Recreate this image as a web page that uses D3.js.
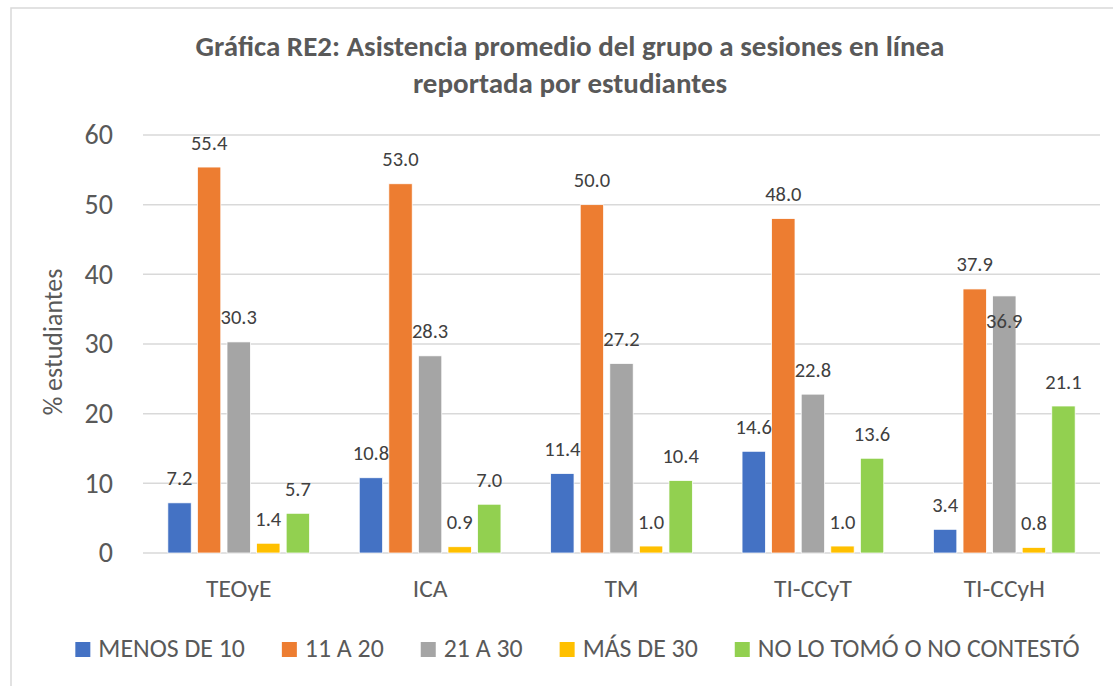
<!DOCTYPE html>
<html>
<head>
<meta charset="utf-8">
<script src="https://cdn.jsdelivr.net/npm/d3@7"></script>
<style>
  body { margin: 0; background: #fff; }
  svg { display: block; font-family: Carlito, Calibri, Lato, sans-serif; }
</style>
</head>
<body>
<div id="content"></div>
<script>
/* chart data */
const CATEGORIES = ["TEOyE", "ICA", "TM", "TI-CCyT", "TI-CCyH"];
const SERIES = ["MENOS DE 10", "11 A 20", "21 A 30", "MÁS DE 30", "NO LO TOMÓ O NO CONTESTÓ"];
const MENOS_10 = [7.2, 10.8, 11.4, 14.6, 3.4];
const DE_11_A_20 = [55.4, 53.0, 50.0, 48.0, 37.9];
const DE_21_A_30 = [30.3, 28.3, 27.2, 22.8, 36.9];
const MAS_30 = [1.4, 0.9, 1.0, 1.0, 0.8];
const NO_CONTESTO = [5.7, 7.0, 10.4, 13.6, 21.1];
const Y_TICKS = [0, 10, 20, 30, 40, 50, 60];
const COLORS = ["#4472C4", "#ED7D31", "#A5A5A5", "#FFC000", "#92D050"];

const WIDTH = 1113;
const HEIGHT = 686;
const PLOT = {left: 143, right: 1100, top: 135, bottom: 553};

const values = [MENOS_10, DE_11_A_20, DE_21_A_30, MAS_30, NO_CONTESTO];

const svg = d3.select("#content").append("svg")
    .attr("width", WIDTH)
    .attr("height", HEIGHT);

// chart area border (only left and top visible)
svg.append("rect")
    .attr("x", 11).attr("y", 8)
    .attr("width", 1200).attr("height", 800)
    .attr("fill", "none")
    .attr("stroke", "#d9d9d9")
    .attr("stroke-width", 1.5);

// title
const title = svg.append("text")
    .attr("text-anchor", "middle")
    .attr("fill", "#595959")
    .attr("font-weight", "bold")
    .attr("font-size", 29);
title.append("tspan").attr("x", 570).attr("y", 56)
    .text("Gráfica RE2: Asistencia promedio del grupo a sesiones en línea");
title.append("tspan").attr("x", 570).attr("y", 93)
    .text("reportada por estudiantes");

const x0 = d3.scaleBand()
    .domain(CATEGORIES)
    .range([PLOT.left, PLOT.right]);

const x1 = d3.scaleBand()
    .domain(SERIES)
    .range([0, x0.bandwidth()])
    .paddingInner(0.21)
    .paddingOuter(0.84);

const y = d3.scaleLinear()
    .domain([0, 60])
    .range([PLOT.bottom, PLOT.top]);

// gridlines
svg.append("g")
    .selectAll("line")
    .data(Y_TICKS)
    .join("line")
    .attr("x1", PLOT.left).attr("x2", PLOT.right)
    .attr("y1", (d) => y(d)).attr("y2", (d) => y(d))
    .attr("stroke", "#d9d9d9")
    .attr("stroke-width", 1.5);

// y axis labels
const yAxis = svg.append("g")
    .attr("transform", "translate(113,0)")
    .call(d3.axisLeft(y).tickValues(Y_TICKS).tickSize(0).tickPadding(0));
yAxis.select(".domain").remove();
yAxis.attr("font-family", null);
yAxis.selectAll("text")
    .attr("font-size", 28)
    .attr("fill", "#595959");

svg.append("text")
    .attr("transform", "translate(53," + 342 + ") rotate(-90)")
    .attr("text-anchor", "middle")
    .attr("dominant-baseline", "central")
    .attr("font-size", 26)
    .attr("fill", "#595959")
    .text("% estudiantes");

// x axis labels
const xAxis = svg.append("g")
    .attr("transform", "translate(0,579)")
    .call(d3.axisBottom(x0).tickSize(0).tickPadding(0));
xAxis.select(".domain").remove();
xAxis.attr("font-family", null);
xAxis.selectAll("text")
    .attr("font-size", 25.5)
    .attr("fill", "#595959");

// bars
const rows = CATEGORIES.map((c, i) => ({
    category: c,
    items: SERIES.map((s, j) => ({series: s, index: j, value: values[j][i]}))
}));

const groups = svg.append("g")
    .selectAll("g")
    .data(rows)
    .join("g")
    .attr("transform", (d) => "translate(" + x0(d.category) + ",0)");

groups.selectAll("rect")
    .data((d) => d.items)
    .join("rect")
    .attr("x", (d) => x1(d.series))
    .attr("y", (d) => y(d.value))
    .attr("width", x1.bandwidth())
    .attr("height", (d) => y(0) - y(d.value))
    .attr("fill", (d) => COLORS[d.index])
    .attr("stroke", "#fff")
    .attr("stroke-width", 0.75);

// data labels, pushed inside the bar when they would collide with the previous one
groups.each(function (d) {
    let prevBase = null;
    d.items.forEach((item) => {
        let base = y(item.value) - 17.5;
        if (prevBase !== null && Math.abs(base - prevBase) < 18) {
            base = y(item.value) + 32;
        }
        prevBase = base;
        d3.select(this).append("text")
            .attr("x", x1(item.series) + x1.bandwidth() / 2)
            .attr("y", base)
            .attr("text-anchor", "middle")
            .attr("font-size", 20.5)
            .attr("fill", "#404040")
            .text(d3.format(".1f")(item.value));
    });
});

// legend
const legend = svg.append("g");
let lx = 0;
SERIES.forEach((s, i) => {
    const item = legend.append("g").attr("transform", "translate(" + lx + ",0)");
    item.append("rect")
        .attr("x", 0).attr("y", 642)
        .attr("width", 15).attr("height", 15)
        .attr("fill", COLORS[i]);
    const t = item.append("text")
        .attr("x", 23).attr("y", 657)
        .attr("font-size", 25.8)
        .attr("fill", "#595959")
        .text(s);
    lx += 23 + t.node().getComputedTextLength() + 37;
});
const legendWidth = lx - 37;
legend.attr("transform", "translate(" + (577.5 - legendWidth / 2) + ",0)");
</script>
</body>
</html>
